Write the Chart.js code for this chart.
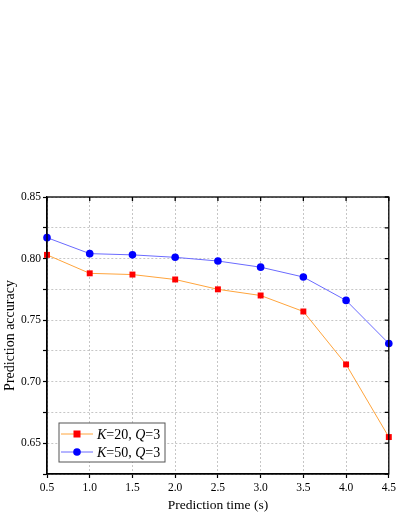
<!DOCTYPE html>
<html lang="en">
<head>
  <meta charset="UTF-8" />
  <title>Prediction accuracy</title>
  <script src="https://cdn.jsdelivr.net/npm/chart.js"></script>
  <style>
    html, body { margin: 0; padding: 0; background: #fff; }
    #wrap { width: 399px; height: 516px; }
  </style>
</head>
<body>
  <div id="wrap"><canvas id="chart"></canvas></div>

  <script>
    // data
    const times = [0.5, 1.0, 1.5, 2.0, 2.5, 3.0, 3.5, 4.0, 4.5];
    const accK20 = [0.803, 0.788, 0.787, 0.783, 0.775, 0.770, 0.757, 0.714, 0.655];
    const accK50 = [0.817, 0.804, 0.803, 0.801, 0.798, 0.793, 0.785, 0.766, 0.731];
    const seriesK = ['20', '50'];
    const seriesQ = ['3', '3'];

    const serif = "'Liberation Serif', 'Times New Roman', serif";
    const toPoints = ys => ys.map((y, i) => ({ x: times[i], y: y }));

    // box round the plot, with inward ticks on top and right
    const framePlugin = {
      id: 'frame',
      afterDatasetsDraw(chart) {
        const { ctx, chartArea: a, scales } = chart;
        ctx.save();
        ctx.setLineDash([]);
        ctx.strokeStyle = '#000';
        ctx.lineWidth = 1.3;
        ctx.strokeRect(a.left, a.top, a.right - a.left, a.bottom - a.top);
        ctx.beginPath();
        scales.x.ticks.forEach(t => {
          const px = scales.x.getPixelForValue(t.value);
          ctx.moveTo(px, a.top);
          ctx.lineTo(px, a.top + 4);
        });
        scales.y.ticks.forEach(t => {
          const py = scales.y.getPixelForValue(t.value);
          ctx.moveTo(a.right, py);
          ctx.lineTo(a.right - 4, py);
        });
        ctx.stroke();
        ctx.restore();
      }
    };

    // legend box in the lower left corner, K and Q in italics
    const legendPlugin = {
      id: 'boxLegend',
      afterDraw(chart) {
        const { ctx, chartArea: a } = chart;
        const x0 = a.left + 12, y0 = a.bottom - 51, w = 106, h = 39;
        ctx.save();
        ctx.setLineDash([]);
        ctx.fillStyle = '#fff';
        ctx.fillRect(x0, y0, w, h);
        ctx.strokeStyle = '#555';
        ctx.lineWidth = 1;
        ctx.strokeRect(x0, y0, w, h);
        chart.data.datasets.forEach((ds, i) => {
          const cy = y0 + 11 + i * 18;
          ctx.strokeStyle = ds.borderColor;
          ctx.lineWidth = 1;
          ctx.beginPath();
          ctx.moveTo(x0 + 2, cy);
          ctx.lineTo(x0 + 34, cy);
          ctx.stroke();
          ctx.fillStyle = ds.pointBackgroundColor;
          if (ds.pointStyle === 'rect') {
            ctx.fillRect(x0 + 18 - 3.5, cy - 3.5, 7, 7);
          } else {
            ctx.beginPath();
            ctx.arc(x0 + 18, cy, 3.8, 0, Math.PI * 2);
            ctx.fill();
          }
          const parts = [
            ['italic', 'K'], ['normal', '=' + seriesK[i] + ', '],
            ['italic', 'Q'], ['normal', '=' + seriesQ[i]]
          ];
          let tx = x0 + 38;
          ctx.fillStyle = '#000';
          ctx.textBaseline = 'middle';
          parts.forEach(([style, s]) => {
            ctx.font = style + ' 14px ' + serif;
            ctx.fillText(s, tx, cy + 1);
            tx += ctx.measureText(s).width;
          });
        });
        ctx.restore();
      }
    };

    const grid = {
      color: '#b8b8b8',
      lineWidth: 0.8,
      tickColor: '#000',
      tickLength: 4,
      tickWidth: 1.2
    };
    // in v4 the dash of the grid lines sits on the border options
    const border = { display: true, color: '#000', width: 1.3, dash: [2, 2] };

    new Chart(document.getElementById('chart'), {
      type: 'line',
      data: {
        datasets: [
          {
            label: 'K=20, Q=3',
            data: toPoints(accK20),
            borderColor: '#ffa43c',
            borderWidth: 1,
            pointStyle: 'rect',
            pointRadius: 4.2,
            pointBackgroundColor: '#ff0000',
            pointBorderColor: '#ff0000',
            pointBorderWidth: 0,
            clip: false
          },
          {
            label: 'K=50, Q=3',
            data: toPoints(accK50),
            borderColor: '#6a6aff',
            borderWidth: 1,
            pointStyle: 'circle',
            pointRadius: 3.8,
            pointBackgroundColor: '#0000ff',
            pointBorderColor: '#0000ff',
            pointBorderWidth: 0,
            clip: false
          }
        ]
      },
      options: {
        responsive: true,
        maintainAspectRatio: false,
        animation: false,
        layout: { padding: { top: 197, right: 9, left: 0, bottom: 0 } },
        plugins: {
          legend: { display: false },
          tooltip: { enabled: false }
        },
        scales: {
          x: {
            type: 'linear',
            min: 0.5,
            max: 4.5,
            afterFit: s => { s.height = 42; },
            grid: grid,
            border: border,
            ticks: {
              stepSize: 0.5,
              padding: 3,
              color: '#000',
              font: { family: serif, size: 11.5 },
              callback: v => v.toFixed(1)
            },
            title: {
              display: true,
              text: 'Prediction time (s)',
              color: '#000',
              font: { family: serif, size: 13.5 },
              padding: { top: 2, bottom: 2 }
            }
          },
          y: {
            min: 0.625,
            max: 0.85,
            afterFit: s => { s.width = 47; },
            grid: grid,
            border: border,
            ticks: {
              stepSize: 0.025,
              padding: 2,
              color: '#000',
              font: { family: serif, size: 11.5 },
              callback: v => {
                const k = v * 20;
                return Math.abs(k - Math.round(k)) < 1e-6 ? v.toFixed(2) : '';
              }
            },
            title: {
              display: true,
              text: 'Prediction accuracy',
              color: '#000',
              font: { family: serif, size: 14 },
              padding: { top: 2, bottom: 2 }
            }
          }
        }
      },
      plugins: [framePlugin, legendPlugin]
    });
  </script>
</body>
</html>
